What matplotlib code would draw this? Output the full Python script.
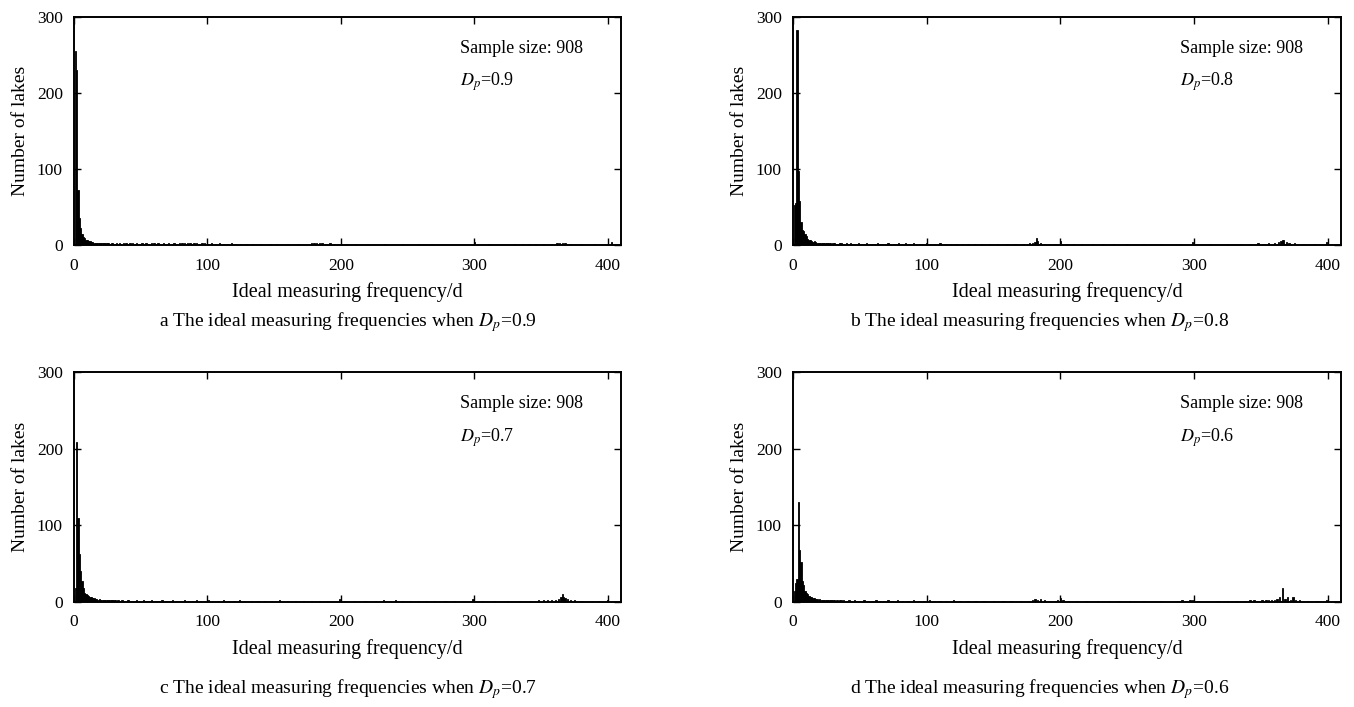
import matplotlib
matplotlib.use("Agg")
import matplotlib.pyplot as plt

# Lake counts per ideal measuring frequency (day)
# head = counts for days 1..30, tail = sparse counts after day 30

head_a = [255, 230, 72, 35, 22, 15, 11, 9, 7, 6, 5, 5, 4, 4, 3, 3, 3, 2, 3, 2,
          2, 2, 3, 2, 2, 2, 1, 2, 2, 1]
tail_days_a = [32, 34, 35, 37, 39, 40, 42, 44, 45, 47,
               49, 51, 52, 54, 56, 58, 60, 61, 63, 65,
               67, 69, 71, 73, 75, 77, 79, 81, 83, 85,
               87, 89, 90, 92, 94, 96, 98, 101, 103, 106,
               109, 112, 115, 118, 121, 125, 129, 134, 140, 147,
               152, 160, 168, 178, 180, 182, 184, 186, 189, 192,
               195, 198, 204, 211, 220, 233, 246, 258, 268, 300,
               311, 330, 336, 341, 346, 352, 358, 362, 364, 366,
               368, 372, 380, 390, 403]
tail_counts_a = [2, 2, 1, 2, 2, 1, 2, 2, 1, 2,
                 1, 2, 1, 2, 1, 2, 2, 1, 2, 1,
                 2, 1, 2, 1, 2, 1, 2, 3, 2, 2,
                 2, 1, 3, 2, 1, 2, 2, 1, 2, 1,
                 2, 1, 1, 2, 1, 1, 1, 1, 1, 1,
                 1, 1, 1, 2, 3, 2, 2, 2, 1, 2,
                 1, 1, 1, 1, 1, 1, 1, 1, 1, 4,
                 1, 1, 1, 1, 1, 1, 1, 2, 3, 2,
                 3, 1, 1, 1, 4]

head_b = [52, 55, 283, 98, 58, 30, 20, 18, 15, 12, 8, 7, 6, 5, 4, 5, 4, 3, 3, 3,
          3, 2, 2, 3, 2, 2, 2, 2, 1, 2]
tail_days_b = [31, 33, 35, 36, 38, 40, 42, 43, 45, 47,
               49, 51, 53, 55, 57, 59, 61, 63, 65, 67,
               69, 71, 73, 75, 77, 79, 81, 84, 87, 90,
               92, 95, 97, 100, 103, 106, 110, 114, 118, 122,
               127, 131, 136, 141, 147, 153, 160, 166, 172, 177,
               179, 181, 182, 183, 185, 188, 192, 196, 200, 205,
               210, 216, 224, 232, 240, 250, 262, 275, 290, 299,
               312, 325, 335, 342, 348, 352, 356, 360, 363, 365,
               366, 367, 369, 371, 375, 382, 390, 399]
tail_counts_b = [2, 1, 2, 2, 1, 2, 1, 2, 1, 1,
                 2, 1, 1, 2, 1, 1, 1, 2, 1, 1,
                 1, 2, 1, 1, 1, 2, 1, 2, 1, 2,
                 1, 1, 1, 2, 1, 1, 3, 1, 1, 1,
                 1, 1, 1, 1, 1, 1, 1, 1, 1, 2,
                 3, 4, 9, 5, 2, 1, 1, 1, 5, 1,
                 1, 1, 1, 1, 1, 1, 1, 1, 1, 4,
                 1, 1, 1, 1, 2, 1, 2, 3, 4, 5,
                 7, 6, 4, 3, 2, 1, 1, 4]

head_c = [18, 209, 110, 62, 40, 28, 18, 12, 10, 9, 8, 7, 6, 5, 5, 4, 4, 3, 4, 3,
          3, 3, 2, 3, 2, 2, 3, 2, 2, 2]
tail_days_c = [31, 33, 34, 36, 38, 40, 41, 43, 45, 47,
               49, 52, 54, 56, 58, 61, 63, 66, 69, 72,
               74, 77, 80, 83, 86, 89, 92, 95, 98, 101,
               104, 108, 112, 116, 120, 124, 128, 133, 138, 143,
               148, 154, 160, 166, 172, 178, 184, 190, 199, 203,
               210, 218, 226, 232, 237, 241, 246, 252, 258, 264,
               270, 278, 285, 292, 299, 306, 315, 325, 334, 342,
               348, 352, 355, 358, 361, 363, 365, 366, 367, 368,
               370, 372, 375, 380, 388, 393, 400]
tail_counts_c = [2, 2, 1, 2, 1, 2, 2, 1, 1, 2,
                 1, 2, 1, 1, 2, 1, 1, 2, 1, 1,
                 2, 1, 1, 2, 1, 1, 2, 1, 1, 2,
                 1, 1, 2, 1, 1, 2, 1, 1, 1, 1,
                 1, 2, 1, 1, 1, 1, 1, 1, 4, 1,
                 1, 1, 1, 2, 1, 2, 1, 1, 1, 1,
                 1, 1, 1, 1, 4, 1, 1, 1, 1, 1,
                 2, 2, 3, 2, 3, 4, 6, 10, 7, 5,
                 4, 3, 2, 1, 1, 1, 3]

head_d = [15, 25, 30, 130, 68, 52, 28, 22, 15, 12, 10, 8, 7, 6, 5, 5, 4, 4, 3, 4,
          3, 3, 2, 3, 2, 3, 2, 2, 2, 2]
tail_days_d = [31, 33, 35, 36, 38, 40, 42, 44, 46, 48,
               50, 53, 56, 59, 62, 65, 68, 71, 74, 78,
               82, 86, 90, 94, 98, 102, 106, 110, 115, 120,
               125, 131, 137, 143, 150, 157, 163, 170, 176, 179,
               181, 183, 185, 188, 193, 196, 198, 200, 202, 206,
               212, 220, 228, 236, 244, 252, 262, 275, 288, 291,
               294, 297, 299, 303, 310, 318, 325, 332, 338, 342,
               345, 348, 351, 354, 356, 358, 360, 362, 364, 366,
               368, 370, 372, 374, 376, 379, 385, 392, 399]
tail_counts_d = [3, 2, 3, 2, 2, 1, 2, 1, 2, 1,
                 1, 2, 1, 1, 2, 1, 1, 2, 1, 2,
                 1, 1, 2, 1, 1, 2, 1, 1, 1, 2,
                 1, 1, 1, 1, 1, 1, 1, 1, 1, 3,
                 4, 3, 4, 2, 1, 1, 2, 5, 2, 1,
                 1, 1, 1, 1, 1, 1, 1, 1, 1, 2,
                 1, 3, 2, 1, 1, 1, 1, 1, 1, 2,
                 2, 1, 2, 2, 3, 2, 3, 4, 6, 18,
                 4, 6, 3, 7, 3, 2, 1, 1, 3]

dp_values = ["0.9", "0.8", "0.7", "0.6"]
letters = ["a", "b", "c", "d"]
sample_size = 908

plt.rcParams["font.family"] = ["Liberation Serif", "DejaVu Serif"]
plt.rcParams["mathtext.fontset"] = "stix"


def desenhar_painel(ax, head, tail_days, tail_counts, dp):
    dias = list(range(1, len(head) + 1)) + tail_days
    contagens = head + tail_counts
    ax.bar(dias, contagens, width=1.0, color="black", edgecolor="black",
           linewidth=0.6)

    ax.set_xlim(0, 410)
    ax.set_ylim(0, 300)
    ax.set_xticks([0, 100, 200, 300, 400])
    ax.set_yticks([0, 100, 200, 300])
    ax.tick_params(direction="in", top=True, right=True, length=5,
                   width=1.0, labelsize=12.5)
    ax.tick_params(axis="x", pad=9)
    ax.tick_params(axis="y", pad=8)
    for spine in ax.spines.values():
        spine.set_linewidth(1.4)

    ax.set_xlabel("Ideal measuring frequency/d", fontsize=14.5, labelpad=6)
    ax.set_ylabel("Number of lakes", fontsize=14, labelpad=6)

    ax.text(0.706, 0.864, f"Sample size: {sample_size}", transform=ax.transAxes,
            fontsize=13, va="center", ha="left")
    ax.text(0.706, 0.715, "$D_p$=" + dp, transform=ax.transAxes,
            fontsize=13, va="center", ha="left")


def main():
    W, H = 1354, 707
    fig = plt.figure(figsize=(W / 100, H / 100), dpi=100)

    heads = [head_a, head_b, head_c, head_d]
    tdays = [tail_days_a, tail_days_b, tail_days_c, tail_days_d]
    tcounts = [tail_counts_a, tail_counts_b, tail_counts_c, tail_counts_d]

    # pixel boxes of each panel: left, right, top, bottom
    caixas = [(74, 621, 17, 245), (793, 1341, 17, 245),
              (74, 621, 372, 602), (793, 1341, 372, 602)]
    legendas_y = [322, 322, 689, 689]
    legendas_x = [348, 1040, 348, 1040]

    for i in range(4):
        l, r, t, b = caixas[i]
        ax = fig.add_axes([l / W, 1 - b / H, (r - l) / W, (b - t) / H])
        desenhar_painel(ax, heads[i], tdays[i], tcounts[i], dp_values[i])
        fig.text(legendas_x[i] / W, 1 - legendas_y[i] / H,
                 f"{letters[i]} The ideal measuring frequencies when $D_p$={dp_values[i]}",
                 fontsize=14, ha="center", va="center")

    fig.savefig("out.png", dpi=100)
    plt.close(fig)


if __name__ == "__main__":
    main()
